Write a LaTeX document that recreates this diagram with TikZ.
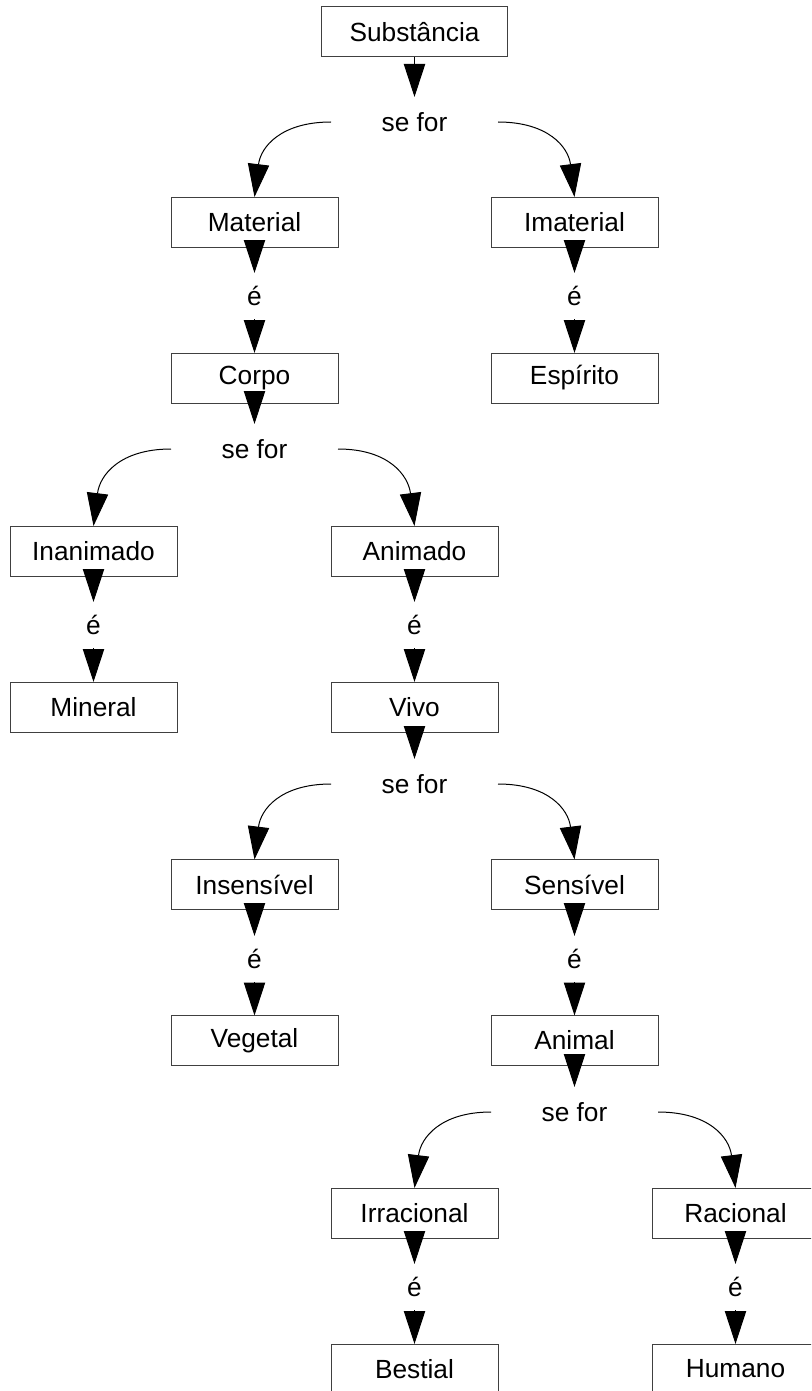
\documentclass[tikz,border=0pt]{standalone}
\usepackage{fontspec}
\setmainfont{Liberation Sans}
\usetikzlibrary{arrows.meta}
\begin{document}
\begin{tikzpicture}[x=0.75pt,y=-0.75pt,
  box/.style={draw=black!75,line width=0.75pt,minimum width=125.25pt,minimum height=37.5pt,inner sep=0pt,outer sep=0pt,font=\fontsize{19.7}{24}\selectfont},
  lab/.style={minimum width=125.25pt,minimum height=37.5pt,inner sep=0pt,outer sep=0pt,font=\fontsize{19.7}{24}\selectfont},
  elab/.style={lab,minimum height=34.5pt},
  arr/.style={line width=0.75pt,-{Triangle[length=24.75pt,width=16pt]}},
  lc/.style={arr,out=180,in=83,looseness=1.2},
  rc/.style={arr,out=0,in=97,looseness=1.2}]
\useasboundingbox (0,0) rectangle (811,1391);
\clip (0,0) rectangle (811,1391);
% nodes
\node[box,minimum width=139.5pt] (sub) at (414.5,32) {Substância};
\node[lab] (sf1) at (414.5,122) {se for};
\node[box] (mat) at (254.5,222) {Material};
\node[box] (imat) at (574.5,222) {Imaterial};
\node[elab] (e1) at (254.5,296) {é};
\node[elab] (e2) at (574.5,296) {é};
\node[box] (corpo) at (254.5,378) {Corpo};
\node[box] (esp) at (574.5,378) {Espírito};
\node[lab] (sf2) at (254.5,449) {se for};
\node[box] (inan) at (93.5,551) {Inanimado};
\node[box] (anim) at (414.5,551) {Animado};
\node[elab] (e3) at (93.5,625) {é};
\node[elab] (e4) at (414.5,625) {é};
\node[box] (mine) at (93.5,707) {Mineral};
\node[box] (vivo) at (414.5,707) {Vivo};
\node[lab] (sf3) at (414.5,784) {se for};
\node[box] (insens) at (254.5,884.5) {Insensível};
\node[box] (sens) at (574.5,884.5) {Sensível};
\node[elab] (e5) at (254.5,959) {é};
\node[elab] (e6) at (574.5,959) {é};
\node[box] (veg) at (254.5,1040.5) {Vegetal};
\node[box] (animal) at (574.5,1040.5) {Animal};
\node[lab] (sf4) at (574.5,1112) {se for};
\node[box] (irr) at (414.5,1213) {Irracional};
\node[box] (rac) at (735.5,1213) {Racional};
\node[elab] (e7) at (414.5,1287) {é};
\node[elab] (e8) at (735.5,1287) {é};
\node[box] (best) at (414.5,1369) {Bestial};
\node[box] (hum) at (735.5,1369) {Humano};
% connectors
\draw[arr] (sub.south) -- (sf1.north);
\draw[lc] (sf1.west) to (mat.north);
\draw[rc] (sf1.east) to (imat.north);
\draw[arr] (mat.south) -- (e1.north);
\draw[arr] (e1.south) -- (corpo.north);
\draw[arr] (imat.south) -- (e2.north);
\draw[arr] (e2.south) -- (esp.north);
\draw[arr] (corpo.south) -- (sf2.north);
\draw[lc] (sf2.west) to (inan.north);
\draw[rc] (sf2.east) to (anim.north);
\draw[arr] (inan.south) -- (e3.north);
\draw[arr] (e3.south) -- (mine.north);
\draw[arr] (anim.south) -- (e4.north);
\draw[arr] (e4.south) -- (vivo.north);
\draw[arr] (vivo.south) -- (sf3.north);
\draw[lc] (sf3.west) to (insens.north);
\draw[rc] (sf3.east) to (sens.north);
\draw[arr] (insens.south) -- (e5.north);
\draw[arr] (e5.south) -- (veg.north);
\draw[arr] (sens.south) -- (e6.north);
\draw[arr] (e6.south) -- (animal.north);
\draw[arr] (animal.south) -- (sf4.north);
\draw[lc] (sf4.west) to (irr.north);
\draw[rc] (sf4.east) to (rac.north);
\draw[arr] (irr.south) -- (e7.north);
\draw[arr] (e7.south) -- (best.north);
\draw[arr] (rac.south) -- (e8.north);
\draw[arr] (e8.south) -- (hum.north);
\end{tikzpicture}
\end{document}
